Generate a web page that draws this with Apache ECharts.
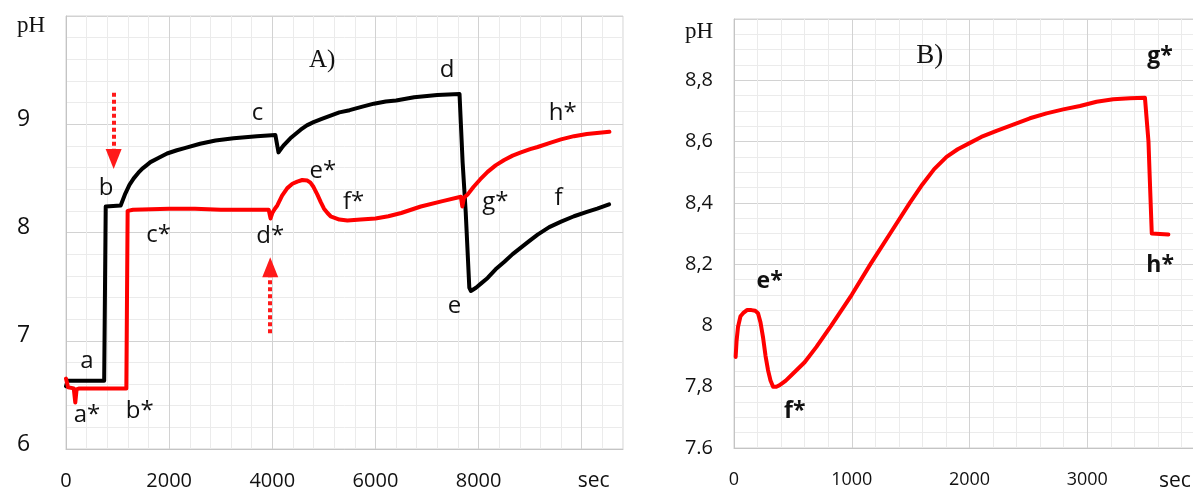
<!DOCTYPE html>
<html>
<head>
<meta charset="utf-8">
<script src="https://cdn.jsdelivr.net/npm/echarts@6/dist/echarts.min.js"></script>
<style>
  html, body { margin: 0; padding: 0; background: #fff; }
  #echarts-wrapper { width: 1193px; height: 489px; }
</style>
</head>
<body>
<div id="echarts-wrapper"></div>
<script>
"use strict";

// panel A, black run (sec, pH)
var blackTimeA = [0, 30, 740, 770, 1060, 1150, 1230, 1313, 1400, 1480, 1560, 1637, 1800, 1960, 2150, 2300, 2600, 2900, 3250, 3700, 4060, 4120, 4180, 4230, 4350, 4450, 4550, 4670, 4800, 4960, 5130, 5300, 5500, 5730, 5970, 6200, 6400, 6750, 7200, 7630, 7690, 7750, 7820, 7850, 7950, 8050, 8175, 8330, 8500, 8660, 8820, 8980, 9145, 9370, 9600, 9850, 10100, 10300, 10530];
var blackPhA = [6.58, 6.63, 6.63, 8.24, 8.25, 8.36, 8.44, 8.50, 8.55, 8.59, 8.62, 8.65, 8.69, 8.73, 8.76, 8.78, 8.82, 8.85, 8.87, 8.89, 8.90, 8.74, 8.78, 8.81, 8.87, 8.91, 8.95, 8.99, 9.02, 9.05, 9.08, 9.11, 9.13, 9.16, 9.19, 9.21, 9.22, 9.25, 9.27, 9.28, 8.65, 8.19, 7.49, 7.46, 7.49, 7.53, 7.58, 7.66, 7.73, 7.80, 7.86, 7.92, 7.98, 8.05, 8.10, 8.15, 8.19, 8.22, 8.26];

// panel A, red run
var redTimeA = [0, 40, 150, 180, 205, 260, 1170, 1195, 1300, 2000, 2500, 3000, 3500, 3930, 3966, 4000, 4050, 4097, 4190, 4291, 4390, 4485, 4580, 4680, 4740, 4800, 4874, 4940, 5003, 5070, 5131, 5300, 5456, 5715, 6000, 6250, 6500, 6880, 7300, 7656, 7685, 7715, 7786, 7900, 8030, 8175, 8330, 8497, 8660, 8821, 9000, 9145, 9400, 9598, 9850, 10100, 10537];
var redPhA = [6.65, 6.57, 6.56, 6.43, 6.55, 6.56, 6.56, 8.20, 8.21, 8.22, 8.22, 8.21, 8.21, 8.21, 8.13, 8.18, 8.22, 8.25, 8.34, 8.41, 8.45, 8.47, 8.485, 8.48, 8.46, 8.42, 8.35, 8.28, 8.22, 8.18, 8.15, 8.12, 8.11, 8.12, 8.13, 8.15, 8.18, 8.24, 8.29, 8.33, 8.24, 8.32, 8.35, 8.42, 8.49, 8.56, 8.62, 8.67, 8.71, 8.74, 8.77, 8.79, 8.83, 8.86, 8.89, 8.91, 8.93];

// panel B, red run
var redTimeB = [14, 22, 34, 55, 77, 110, 148, 180, 204, 225, 247, 268, 289, 310, 332, 360, 388, 440, 502, 600, 700, 827, 1000, 1159, 1326, 1493, 1600, 1700, 1805, 1900, 2000, 2100, 2229, 2371, 2513, 2654, 2796, 2938, 3079, 3221, 3363, 3490, 3505, 3520, 3530, 3548, 3689];
var redPhB = [7.897, 7.95, 7.995, 8.03, 8.04, 8.05, 8.05, 8.048, 8.04, 8.01, 7.96, 7.90, 7.854, 7.82, 7.80, 7.80, 7.805, 7.82, 7.843, 7.88, 7.93, 8.0, 8.10, 8.2, 8.3, 8.4, 8.46, 8.51, 8.55, 8.575, 8.595, 8.615, 8.635, 8.655, 8.676, 8.692, 8.705, 8.716, 8.73, 8.738, 8.741, 8.743, 8.74, 8.60, 8.49, 8.30, 8.297];

// tick labels
var xLabelsA = [0, 2000, 4000, 6000, 8000, 10000];
var yLabelsA = [6, 7, 8, 9, 10];
var xLabelsB = [0, 1000, 2000, 3000, 4000];
var yLabelsB = [7.6, 7.8, 8, 8.2, 8.4, 8.6, 8.8, 9];

// point letters [sec, pH, text]
var notesA = [
  [408, 6.81, 'a'], [408, 6.31, 'a*'], [1429, 6.35, 'b*'], [776, 8.41, 'b'],
  [3714, 9.10, 'c'], [1796, 7.98, 'c*'], [7388, 9.50, 'd'], [3959, 7.97, 'd*'],
  [4980, 8.57, 'e*'], [7534, 7.32, 'e'], [5575, 8.28, 'f*'], [9551, 8.32, 'f'],
  [8327, 8.28, 'g*'], [9633, 9.10, 'h*']
];
var notesB = [[303, 8.142, 'e*'], [516, 7.718, 'f*'], [3619, 8.878, 'g*'], [3619, 8.197, 'h*']];
var panelTitles = [[4967, 9.59, 'A)'], [1663, 8.88, 'B)']];

// dotted arrows in panel A: [sec, from pH, to pH]
var arrowsA = [[924, 9.29, 8.68], [3960, 7.07, 7.68]];

var myChart = echarts.init(document.getElementById('echarts-wrapper'));

var majorGrid = '#d2d2d2';
var minorGrid = '#ebebeb';
var ink = '#111';
var sans = 'Open Sans';
var serif = 'Liberation Serif';

function zip(t, v) {
  return t.map(function (x, i) { return [x, v[i]]; });
}
function gridColors(n) {
  var c = [majorGrid];
  for (var i = 1; i < n; i++) c.push(minorGrid);
  return c;
}
function axisBase(every) {
  return {
    type: 'value',
    axisLine: { show: true, lineStyle: { color: '#c4c4c4', width: 1 } },
    axisTick: { show: false },
    splitLine: { show: true, lineStyle: { color: gridColors(every), width: 1 } }
  };
}

var xA = Object.assign(axisBase(5), {
  gridIndex: 0, min: 0, max: 10800, interval: 400,
  axisLabel: {
    customValues: xLabelsA, margin: 22, fontFamily: sans, fontSize: 20, color: ink,
    formatter: function (v) { return v === 10000 ? '{s|sec}' : String(v); },
    rich: { s: { fontFamily: sans, fontSize: 21, color: ink, padding: [0, 0, 0, 24] } }
  }
});
var yA = Object.assign(axisBase(5), {
  gridIndex: 0, min: 6, max: 10, interval: 0.2,
  axisLabel: {
    customValues: yLabelsA, margin: 49, align: 'left', padding: [0, 0, 10, 0],
    fontFamily: sans, fontSize: 23, color: ink,
    formatter: function (v) { return v === 10 ? '{p|pH}' : String(v); },
    rich: { p: { fontFamily: serif, fontSize: 23, color: ink, padding: [30, 0, 0, 0] } }
  }
});
var xB = Object.assign(axisBase(5), {
  gridIndex: 1, min: 0, max: 4000, interval: 200,
  axisLabel: {
    customValues: xLabelsB, margin: 23, fontFamily: sans, fontSize: 18, color: ink,
    formatter: function (v) { return v === 4000 ? '{s|sec}' : String(v); },
    rich: { s: { fontFamily: sans, fontSize: 21, color: ink, padding: [0, 60, 0, 0] } }
  }
});
var yB = Object.assign(axisBase(4), {
  gridIndex: 1, min: 7.6, max: 9, interval: 0.05,
  axisLabel: {
    customValues: yLabelsB, margin: 21, fontFamily: sans, fontSize: 20, color: ink,
    formatter: function (v) {
      if (Math.abs(v - 9) < 1e-6) return '{p|pH}';
      if (Math.abs(v - 7.6) < 1e-6) return '7.6';
      return String(+v.toFixed(1)).replace('.', ',');
    },
    rich: { p: { fontFamily: serif, fontSize: 23, color: ink, padding: [26, 0, 0, 0] } }
  }
});

function textSeries(notes, xi, opts) {
  return {
    type: 'scatter', xAxisIndex: xi, yAxisIndex: xi, silent: true, z: 5,
    symbolSize: 1, itemStyle: { color: 'rgba(255,255,255,0)', opacity: 1 },
    data: notes,
    label: Object.assign({
      show: true, position: 'inside', color: ink, opacity: 1,
      formatter: function (p) { return p.value[2]; }
    }, opts)
  };
}

var arrowLines = arrowsA.map(function (a) {
  return [
    { coord: [a[0], a[1]], symbol: 'none' },
    { coord: [a[0], a[2]], symbol: 'triangle', symbolSize: [16, 20] }
  ];
});

var option = {
  animation: false,
  backgroundColor: '#fff',
  grid: [
    { left: 66, top: 16, width: 557, height: 433, show: true, borderColor: '#d2d2d2', borderWidth: 1, outerBoundsMode: 'none' },
    { left: 734, top: 19, width: 471, height: 429, show: true, borderColor: '#d2d2d2', borderWidth: 1, outerBoundsMode: 'none' }
  ],
  xAxis: [xA, xB],
  yAxis: [yA, yB],
  series: [
    {
      name: 'black A', type: 'line', xAxisIndex: 0, yAxisIndex: 0,
      data: zip(blackTimeA, blackPhA), showSymbol: false, z: 3,
      lineStyle: { color: '#000', width: 4, cap: 'round', join: 'round' }
    },
    {
      name: 'red A', type: 'line', xAxisIndex: 0, yAxisIndex: 0,
      data: zip(redTimeA, redPhA), showSymbol: false, z: 3,
      lineStyle: { color: '#ff0000', width: 4, cap: 'round', join: 'round' },
      markLine: {
        silent: true, animation: false,
        label: { show: false },
        lineStyle: { color: '#ff1a1a', width: 4, type: [4, 3], cap: 'butt' },
        emphasis: { disabled: true },
        data: arrowLines
      }
    },
    {
      name: 'red B', type: 'line', xAxisIndex: 1, yAxisIndex: 1,
      data: zip(redTimeB, redPhB), showSymbol: false, z: 3,
      lineStyle: { color: '#ff0000', width: 4, cap: 'round', join: 'round' }
    },
    textSeries(notesA, 0, { fontFamily: sans, fontSize: 24 }),
    textSeries(notesB, 1, { fontFamily: sans, fontSize: 23, fontWeight: 'bold' }),
    textSeries([panelTitles[0]], 0, { fontFamily: serif, fontSize: 25 }),
    textSeries([panelTitles[1]], 1, { fontFamily: serif, fontSize: 27 })
  ]
};

myChart.setOption(option);
</script>
</body>
</html>
